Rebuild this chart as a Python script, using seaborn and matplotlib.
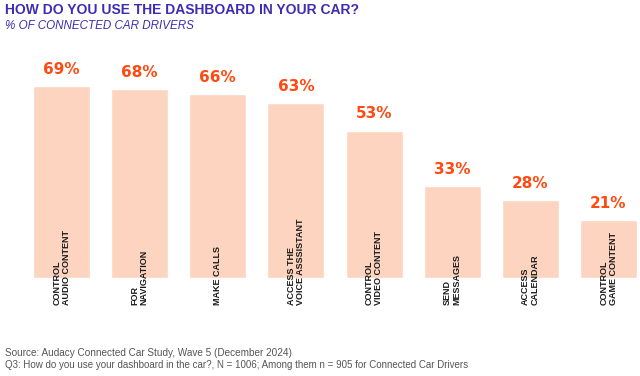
import matplotlib
matplotlib.use("Agg")
import matplotlib.pyplot as plt
import seaborn as sns
import pandas as pd

# Chart data
categories = ["CONTROL\nAUDIO CONTENT", "FOR\nNAVIGATION", "MAKE CALLS",
              "ACCESS THE\nVOICE ASSSISTANT", "CONTROL\nVIDEO CONTENT",
              "SEND\nMESSAGES", "ACCESS\nCALENDAR", "CONTROL\nGAME CONTENT"]
values = [69, 68, 66, 63, 53, 33, 28, 21]
value_labels = ["69%", "68%", "66%", "63%", "53%", "33%", "28%", "21%"]

title = "HOW DO YOU USE THE DASHBOARD IN YOUR CAR?"
subtitle = "% OF CONNECTED CAR DRIVERS"
source_lines = ["Source: Audacy Connected Car Study, Wave 5 (December 2024)",
                "Q3: How do you use your dashboard in the car?, N = 1006; Among them n = 905 for Connected Car Drivers"]

bar_color = "#FDD4BF"
pct_color = "#FF4A12"
title_color = "#3E2DB3"

sns.set_style("white")
plt.rcParams['font.family'] = ['Liberation Sans', 'DejaVu Sans']

df = pd.DataFrame({"category": categories, "value": values})

fig = plt.figure(figsize=(6.4, 3.76), dpi=100)
ax = fig.add_axes([33 / 640, 1 - 278 / 376, 604 / 640, 208.7 / 376])

sns.barplot(data=df, x="category", y="value", color=bar_color, width=0.73,
            saturation=1, ax=ax)
ax.set_xlim(-0.365, len(categories) - 1 + 0.365)
ax.set_ylim(0, 75)
ax.set_xlabel("")
ax.set_ylabel("")
ax.set_xticks([])
ax.set_yticks([])
sns.despine(ax=ax, left=True, bottom=True)

# percent labels above bars, category labels running down out of the bars
for i, (v, lab, cat) in enumerate(zip(values, value_labels, categories)):
    ax.annotate(lab, (i, v), xytext=(0, 6.5), textcoords="offset points",
                ha="center", va="bottom", color=pct_color, fontsize=11,
                fontweight="bold", family=['DejaVu Sans'])
    ax.text(i, -9.7, cat, rotation=90, ha="center", va="bottom",
            multialignment="left", fontsize=6.5, fontweight="bold",
            color="#1a1a1a", linespacing=1.05, clip_on=False)

fig.text(5 / 640, 1 - 10 / 376, title, ha="left", va="center",
         fontsize=10, fontweight="bold", color=title_color)
fig.text(5 / 640, 1 - 26 / 376, subtitle, ha="left", va="center",
         fontsize=8.4, style="italic", color=title_color)
fig.text(5 / 640, 1 - 353 / 376, source_lines[0], ha="left", va="center",
         fontsize=7.2, color="#555555")
fig.text(5 / 640, 1 - 365 / 376, source_lines[1], ha="left", va="center",
         fontsize=7.05, color="#555555")

fig.savefig("out.png", dpi=100)
